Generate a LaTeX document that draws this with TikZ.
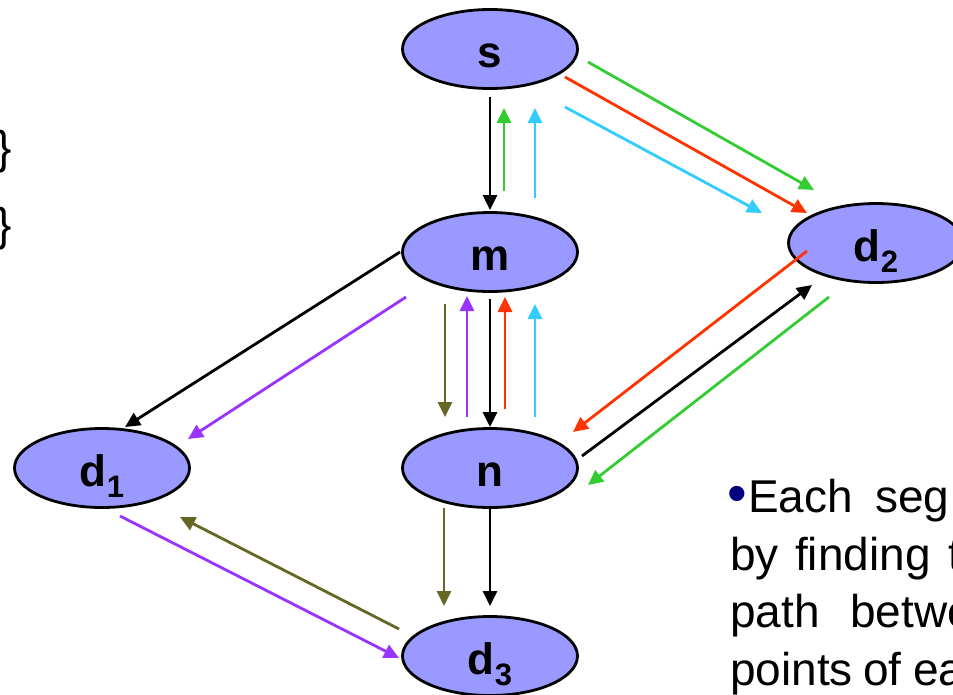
\documentclass[tikz,border=0pt]{standalone}
\usepackage{fontspec}
\setmainfont{Liberation Sans}
\usetikzlibrary{arrows.meta,shapes.geometric}
\definecolor{nodefill}{HTML}{9999FF}
\definecolor{pgreen}{HTML}{33CC33}
\definecolor{pred}{HTML}{FF3300}
\definecolor{pcyan}{HTML}{33CCFF}
\definecolor{ppurple}{HTML}{9933FF}
\definecolor{polive}{HTML}{666626}
\definecolor{bulletblue}{HTML}{000080}
\newcommand{\sublab}[1]{\raisebox{-11pt}{\fontsize{31}{31}\selectfont #1}}
\begin{document}
\begin{tikzpicture}[x=1pt,y=-1pt,
  place/.style={ellipse, draw=black, line width=2.8pt, fill=nodefill,
    minimum width=175pt, minimum height=79pt, inner sep=0pt,
    font=\fontsize{44}{44}\selectfont\bfseries, text height=36pt, text depth=0pt},
  route/.style={line width=2.8pt, -{Triangle[length=15pt,width=14pt]}},
  body/.style={anchor=base west, inner sep=0pt, font=\fontsize{46}{46}\selectfont},
]
\useasboundingbox (0,0) rectangle (953,694);
\clip (0,0) rectangle (953,694);

% graph nodes
\node[place] (s)  at (490,49)  {s};
\node[place] (m)  at (490,252) {m};
\node[place] (n)  at (490,468) {n};
\node[place] (d1) at (102,468) {d\sublab{1}};
\node[place] (d2) at (876,243) {d\sublab{2}};
\node[place] (d3) at (490,656) {d\sublab{3}};

% end points of the segment arrows
\coordinate (sm1a) at (490,97);  \coordinate (sm1b) at (490,210);
\coordinate (ms1a) at (504,191); \coordinate (ms1b) at (504,108);
\coordinate (ms2a) at (535,198); \coordinate (ms2b) at (535,108);

\coordinate (sd1a) at (588,62);  \coordinate (sd1b) at (814,190);
\coordinate (sd2a) at (565,77);  \coordinate (sd2b) at (807,213);
\coordinate (sd3a) at (565,107); \coordinate (sd3b) at (762,213);

\coordinate (md1a) at (400,252); \coordinate (md1b) at (125,427);
\coordinate (md2a) at (406,297); \coordinate (md2b) at (188,439);

\coordinate (mn1a) at (445,304); \coordinate (mn1b) at (445,417);
\coordinate (mn2a) at (467,417); \coordinate (mn2b) at (467,296);
\coordinate (mn3a) at (490,299); \coordinate (mn3b) at (490,427);
\coordinate (mn4a) at (505,409); \coordinate (mn4b) at (505,297);
\coordinate (mn5a) at (535,417); \coordinate (mn5b) at (535,304);

\coordinate (dn1a) at (807,251); \coordinate (dn1b) at (573,432);
\coordinate (dn2a) at (582,456); \coordinate (dn2b) at (812,285);
\coordinate (dn3a) at (829,297); \coordinate (dn3b) at (588,485);

\coordinate (nd1a) at (444,508); \coordinate (nd1b) at (444,606);
\coordinate (nd2a) at (490,508); \coordinate (nd2b) at (490,606);

\coordinate (dd1a) at (120,516); \coordinate (dd1b) at (399,658);
\coordinate (dd2a) at (399,629); \coordinate (dd2b) at (180,517);

% s <-> m
\draw[route, black]  (sm1a) -- (sm1b);
\draw[route, pgreen] (ms1a) -- (ms1b);
\draw[route, pcyan]  (ms2a) -- (ms2b);
% s -> d2
\draw[route, pgreen] (sd1a) -- (sd1b);
\draw[route, pred]   (sd2a) -- (sd2b);
\draw[route, pcyan]  (sd3a) -- (sd3b);
% m -> d1
\draw[route, black]   (md1a) -- (md1b);
\draw[route, ppurple] (md2a) -- (md2b);
% m <-> n
\draw[route, polive]  (mn1a) -- (mn1b);
\draw[route, ppurple] (mn2a) -- (mn2b);
\draw[route, black]   (mn3a) -- (mn3b);
\draw[route, pred]    (mn4a) -- (mn4b);
\draw[route, pcyan]   (mn5a) -- (mn5b);
% d2 <-> n
\draw[route, pred]   (dn1a) -- (dn1b);
\draw[route, black]  (dn2a) -- (dn2b);
\draw[route, pgreen] (dn3a) -- (dn3b);
% n -> d3
\draw[route, polive] (nd1a) -- (nd1b);
\draw[route, black]  (nd2a) -- (nd2b);
% d1 <-> d3
\draw[route, ppurple] (dd1a) -- (dd1b);
\draw[route, polive]  (dd2a) -- (dd2b);

% braces at the left edge
\node[body] (br1) at (-4,163) {\}};
\node[body] (br2) at (-4,240) {\}};

% bullet text
\node[body, font=\fontsize{56}{56}\selectfont, text=bulletblue] (bul) at (727,512) {•};
\node[body] (w1)  at (748,512) {Each};
\node[body] (w2)  at (875,512) {seg};
\node[body] (w3)  at (730,570) {by};
\node[body] (w4)  at (795,570) {finding};
\node[body] (w5)  at (948,570) {t};
\node[body] (w6)  at (730,627) {path};
\node[body] (w7)  at (850,627) {betwe};
\node[body] (w8)  at (730,685) {points};
\node[body] (w9)  at (863,685) {of};
\node[body] (w10) at (913,685) {ea};
\end{tikzpicture}
\end{document}
